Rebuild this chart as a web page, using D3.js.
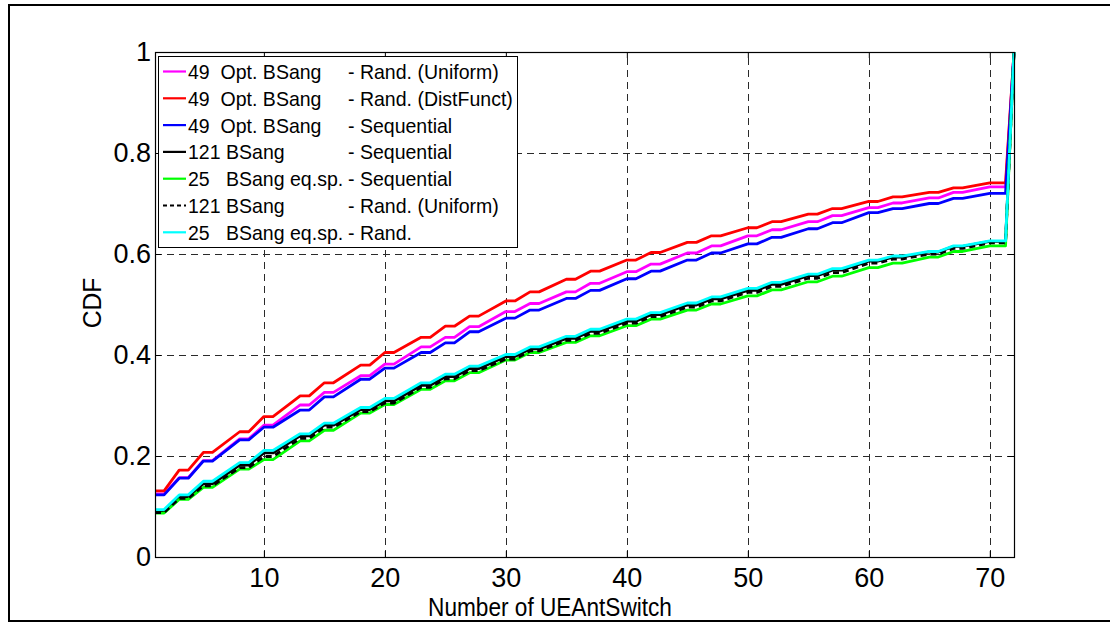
<!DOCTYPE html>
<html>
<head>
<meta charset="utf-8">
<script src="https://cdn.jsdelivr.net/npm/d3@7"></script>
<style>
  html, body { margin: 0; padding: 0; background: #fff; }
  svg { display: block; }
  text { font-family: "Liberation Sans", Arial, Helvetica, sans-serif; fill: #000; }
</style>
</head>
<body>
<svg id="chart" width="1110" height="623"></svg>
<script>
// Plateau start / end positions (number of UE antenna switches)
const plateauStart = [1, 3, 5, 8, 10, 13, 15, 18, 20, 23, 25, 27, 30, 32, 35, 37, 40, 42, 45, 47, 50, 52, 55, 57, 60, 62, 65, 67, 70];
const plateauEnd   = [1.75, 3.75, 5.75, 8.75, 10.75, 13.75, 15.75, 18.75, 20.75, 23.75, 25.75, 27.75, 30.75, 32.75, 35.75, 37.75, 40.75, 42.75, 45.75, 47.75, 50.75, 52.75, 55.75, 57.75, 60.75, 62.75, 65.75, 67.75, 71.3];
const xMax = 72;          // all curves reach CDF = 1 here
const cdfMax = 1;

// CDF value on each plateau, one array per configuration
const optRandUniform = [0.125, 0.157, 0.191, 0.234, 0.261, 0.301, 0.326, 0.359, 0.382, 0.416, 0.435, 0.456, 0.486, 0.502, 0.525, 0.542, 0.565, 0.580, 0.602, 0.616, 0.636, 0.648, 0.664, 0.676, 0.692, 0.701, 0.711, 0.722, 0.733];
const optRandDist    = [0.131, 0.172, 0.207, 0.248, 0.278, 0.319, 0.345, 0.380, 0.405, 0.435, 0.457, 0.477, 0.507, 0.525, 0.550, 0.566, 0.588, 0.603, 0.623, 0.636, 0.652, 0.664, 0.679, 0.690, 0.704, 0.713, 0.722, 0.731, 0.741];
const optSeq         = [0.123, 0.156, 0.190, 0.232, 0.257, 0.291, 0.317, 0.352, 0.374, 0.405, 0.424, 0.446, 0.473, 0.489, 0.512, 0.528, 0.551, 0.566, 0.588, 0.602, 0.620, 0.633, 0.650, 0.662, 0.682, 0.690, 0.700, 0.710, 0.720];
const bs121Seq       = [0.090, 0.119, 0.145, 0.182, 0.206, 0.240, 0.261, 0.292, 0.309, 0.340, 0.357, 0.373, 0.397, 0.412, 0.433, 0.447, 0.467, 0.480, 0.499, 0.511, 0.528, 0.540, 0.557, 0.568, 0.586, 0.594, 0.604, 0.615, 0.625];
const bs25Seq        = [0.087, 0.114, 0.138, 0.174, 0.193, 0.230, 0.251, 0.285, 0.302, 0.332, 0.349, 0.365, 0.390, 0.405, 0.425, 0.438, 0.458, 0.471, 0.489, 0.501, 0.517, 0.529, 0.545, 0.556, 0.573, 0.582, 0.594, 0.605, 0.616];
const bs121Rand      = [0.088, 0.116, 0.141, 0.177, 0.199, 0.235, 0.257, 0.288, 0.305, 0.336, 0.353, 0.369, 0.392, 0.408, 0.429, 0.443, 0.463, 0.476, 0.495, 0.507, 0.524, 0.536, 0.552, 0.563, 0.582, 0.590, 0.600, 0.611, 0.622];
const bs25Rand       = [0.094, 0.123, 0.150, 0.187, 0.211, 0.244, 0.265, 0.296, 0.314, 0.345, 0.362, 0.378, 0.401, 0.416, 0.437, 0.451, 0.471, 0.484, 0.503, 0.515, 0.532, 0.544, 0.560, 0.571, 0.588, 0.596, 0.605, 0.616, 0.626];

// Legend labels: antenna set part and selection-method part
const legendSet    = ["49  Opt. BSang", "49  Opt. BSang", "49  Opt. BSang", "121 BSang", "25   BSang eq.sp.", "121 BSang", "25   BSang eq.sp."];
const legendMethod = ["- Rand. (Uniform)", "- Rand. (DistFunct)", "- Sequential", "- Sequential", "- Sequential", "- Rand. (Uniform)", "- Rand."];

const xTicks = [10, 20, 30, 40, 50, 60, 70];
const yTicks = [0, 0.2, 0.4, 0.6, 0.8, 1];
const yTickLabels = ["0", "0.2", "0.4", "0.6", "0.8", "1"];
const xLabel = "Number of UEAntSwitch";
const yLabel = "CDF";

// Series in plotting order (later ones drawn on top)
const series = [
  { values: optRandUniform, color: "#ff00ff", dash: null },
  { values: optRandDist,    color: "#ff0000", dash: null },
  { values: optSeq,         color: "#0000ff", dash: null },
  { values: bs121Seq,       color: "#000000", dash: null },
  { values: bs25Seq,        color: "#00ff00", dash: null },
  { values: bs121Rand,      color: "#000000", dash: "6,4" },
  { values: bs25Rand,       color: "#00ffff", dash: null }
];

const svg = d3.select("#chart");
const plot = { left: 155, right: 1014, top: 52, bottom: 557 };

// Outer figure frame
svg.append("rect")
  .attr("x", 9).attr("y", 5).attr("width", 1110).attr("height", 616)
  .attr("fill", "#fff").attr("stroke", "#000").attr("stroke-width", 2);

const x = d3.scaleLinear().domain([1, xMax]).range([plot.left, plot.right]);
const y = d3.scaleLinear().domain([0, cdfMax]).range([plot.bottom, plot.top]);

// Dashed grid
const grid = svg.append("g").attr("stroke", "#2a2a2a").attr("stroke-width", 1).attr("stroke-dasharray", "7,5");
grid.selectAll("line.gx").data(xTicks).join("line")
  .attr("x1", d => Math.round(x(d)) + 0.5).attr("x2", d => Math.round(x(d)) + 0.5)
  .attr("y1", plot.bottom).attr("y2", plot.top);
grid.selectAll("line.gy").data(yTicks.filter(v => v > 0 && v < 1)).join("line")
  .attr("y1", d => Math.round(y(d)) + 0.5).attr("y2", d => Math.round(y(d)) + 0.5)
  .attr("x1", plot.left).attr("x2", plot.right);

// Curves
const line = d3.line().x(d => x(d[0])).y(d => y(d[1]));
series.forEach(s => {
  const pts = [];
  s.values.forEach((v, i) => { pts.push([plateauStart[i], v]); pts.push([plateauEnd[i], v]); });
  pts.push([xMax, cdfMax]);
  svg.append("path")
    .datum(pts)
    .attr("d", line)
    .attr("fill", "none")
    .attr("stroke", s.color)
    .attr("stroke-width", 2.8)
    .attr("stroke-linejoin", "round")
    .attr("stroke-dasharray", s.dash);
});

// Axes (ticks point inward on all four sides)
function styleAxis(g) {
  g.select(".domain").remove();
  g.selectAll(".tick line").attr("stroke", "#000");
  g.selectAll(".tick text").attr("font-size", 27).attr("fill", "#000")
    .attr("font-family", "'Liberation Sans', Arial, sans-serif");
}
svg.append("g").attr("transform", `translate(0,${plot.bottom})`)
  .call(d3.axisBottom(x).tickValues(xTicks).tickSizeInner(-6).tickSizeOuter(0).tickPadding(11))
  .call(styleAxis);
svg.append("g").attr("transform", `translate(0,${plot.top})`)
  .call(d3.axisTop(x).tickValues(xTicks).tickSizeInner(-6).tickSizeOuter(0).tickFormat(""))
  .call(styleAxis);
svg.append("g").attr("transform", `translate(${plot.left},0)`)
  .call(d3.axisLeft(y).tickValues(yTicks).tickSizeInner(-6).tickSizeOuter(0).tickPadding(4)
    .tickFormat((d, i) => yTickLabels[i]))
  .call(styleAxis);
svg.append("g").attr("transform", `translate(${plot.right},0)`)
  .call(d3.axisRight(y).tickValues(yTicks).tickSizeInner(-6).tickSizeOuter(0).tickFormat(""))
  .call(styleAxis);

// Axes box
svg.append("rect")
  .attr("x", plot.left + 0.5).attr("y", plot.top + 0.5)
  .attr("width", plot.right - plot.left).attr("height", plot.bottom - plot.top)
  .attr("fill", "none").attr("stroke", "#000").attr("stroke-width", 1.2);

// Axis labels (slightly condensed lettering)
svg.append("text")
  .attr("transform", "translate(550,616) scale(0.87,1)")
  .attr("text-anchor", "middle").attr("font-size", 26)
  .text(xLabel);
svg.append("text")
  .attr("transform", "translate(101,303) rotate(-90) scale(0.95,1)")
  .attr("text-anchor", "middle").attr("font-size", 26)
  .text(yLabel);

// Legend
const leg = { x: 158, y: 56, w: 359, h: 191, rowH: 26.8, firstRow: 71.5 };
svg.append("rect")
  .attr("x", leg.x + 0.5).attr("y", leg.y + 0.5).attr("width", leg.w).attr("height", leg.h)
  .attr("fill", "#fff").attr("stroke", "#000").attr("stroke-width", 1);
const rows = svg.append("g").selectAll("g").data(series).join("g")
  .attr("transform", (d, i) => `translate(0,${leg.firstRow + i * leg.rowH})`);
rows.append("line")
  .attr("x1", 163).attr("x2", 186).attr("y1", 0).attr("y2", 0)
  .attr("stroke", d => d.color).attr("stroke-width", 2.2)
  .attr("stroke-dasharray", d => d.dash ? "4,3" : null);
rows.append("text")
  .attr("transform", "translate(188,7.5) scale(0.93,1)")
  .attr("font-size", 21)
  .attr("xml:space", "preserve").style("white-space", "pre")
  .text((d, i) => legendSet[i]);
rows.append("text")
  .attr("transform", "translate(348,7.5) scale(0.93,1)")
  .attr("font-size", 21)
  .text((d, i) => legendMethod[i]);
</script>
</body>
</html>
